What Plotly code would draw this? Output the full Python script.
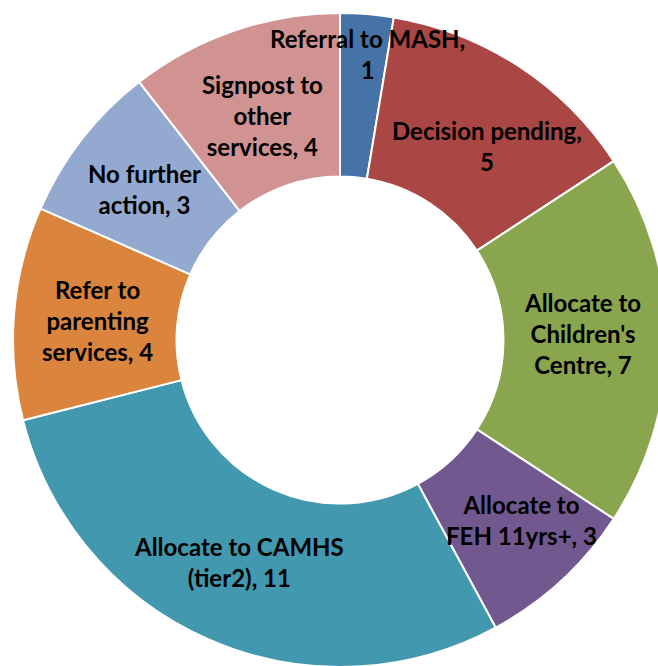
import math
import plotly.graph_objects as go

categories = ["Referral to MASH", "Decision pending", "Allocate to Children's Centre",
              "Allocate to FEH 11yrs+", "Allocate to CAMHS (tier2)",
              "Refer to parenting services", "No further action",
              "Signpost to other services"]
values = [1, 5, 7, 3, 11, 4, 3, 4]
# wrapped label text (line breaks as in the reference), value appended after
label_lines = ["Referral to MASH,<br>", "Decision pending,<br>", "Allocate to<br>Children's<br>Centre, ",
               "Allocate to<br>FEH 11yrs+, ", "Allocate to CAMHS<br>(tier2), ",
               "Refer to<br>parenting<br>services, ", "No further<br>action, ",
               "Signpost to<br>other<br>services, "]
colors = ["#4572A7", "#AA4643", "#89A54E", "#71588F", "#4198AF", "#DB843D", "#93A9CF", "#D19392"]

W, H = 680, 680
cx, cy, R = 340, 340, 327
hole = 0.5

fig = go.Figure(go.Pie(
    labels=categories, values=values, sort=False, direction="clockwise", rotation=0,
    hole=hole, marker=dict(colors=colors, line=dict(color="white", width=2)),
    textinfo="none", hoverinfo="label+value", showlegend=False,
    domain=dict(x=[(cx - R) / W, (cx + R) / W], y=[(H - cy - R) / H, (H - cy + R) / H]),
))

# labels placed at the middle of each ring segment, with small pixel nudges
nudge_x = [7, 13, -3, 15, -2, 2, -2, 2]
nudge_y = [-42, 11, -7, 0, -3, 1, 0, 7]
total = sum(values)
cum = 0
annotations = []
r_mid = R * (1 + hole) / 2
for v, lt, ddx, ddy in zip(values, label_lines, nudge_x, nudge_y):
    mid = (cum + v / 2) / total * 2 * math.pi
    cum += v
    px = cx + r_mid * math.sin(mid) + ddx
    py = cy - r_mid * math.cos(mid) + ddy
    annotations.append(dict(
        x=px / W, y=1 - py / H, xref="paper", yref="paper", showarrow=False,
        text=f"{lt}{v}", align="center", xanchor="center", yanchor="middle",
        font=dict(family="Lato", size=24, color="black", weight="bold"),
    ))

fig.update_layout(
    width=W, height=H, margin=dict(l=0, r=0, t=0, b=0),
    paper_bgcolor="white", plot_bgcolor="white", annotations=annotations,
)

fig.write_html("out.html", config={"displayModeBar": False},
               post_script="document.body.style.margin='0';document.body.style.overflow='hidden';")
